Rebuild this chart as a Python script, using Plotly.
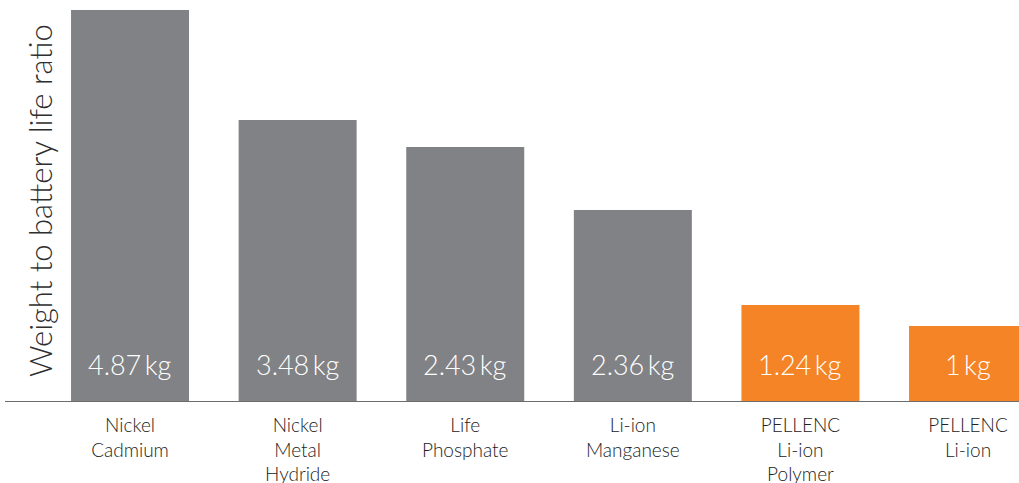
import plotly.graph_objects as go

categories = ["Nickel<br>Cadmium", "Nickel<br>Metal<br>Hydride", "Life<br>Phosphate",
              "Li-ion<br>Manganese", "PELLENC<br>Li-ion<br>Polymer", "PELLENC<br>Li-ion"]
bar_heights = [392, 282, 255, 192, 97, 76]   # relative bar heights
value_labels = ["4.87\u2009kg", "3.48\u2009kg", "2.43\u2009kg", "2.36\u2009kg", "1.24\u2009kg", "1\u2009kg"]
bar_colors = ["#818285", "#818285", "#818285", "#818285", "#F58426", "#F58426"]
y_title = "Weight to battery life ratio"

FONT = "Lato"

fig = go.Figure(go.Bar(
    x=list(range(len(categories))),
    y=bar_heights,
    width=0.704,
    marker=dict(color=bar_colors, line=dict(width=0)),
    hoverinfo="skip",
))

annotations = [dict(
    text=lab, x=i, y=0, xref="x", yref="y", xanchor="center", yanchor="middle",
    yshift=38, showarrow=False,
    font=dict(family=FONT, size=27, color="white", weight=300),
) for i, lab in enumerate(value_labels)]

annotations.append(dict(
    text=y_title, textangle=-90, xref="paper", yref="paper",
    x=(40 - 5) / 1014, y=1 - 201 / 402, xanchor="center", yanchor="middle",
    showarrow=False, font=dict(family=FONT, size=31, color="#2e2e2e", weight=300),
))

fig.update_layout(
    width=1019, height=483,
    margin=dict(l=5, r=0, t=0, b=81, autoexpand=False),
    plot_bgcolor="white", paper_bgcolor="white",
    showlegend=False,
    xaxis=dict(
        range=[-0.746, 5.304], automargin=False,
        tickmode="array", tickvals=list(range(len(categories))), ticktext=categories,
        showgrid=False, zeroline=False,
        showline=False,
        ticks="outside", ticklen=6, tickcolor="rgba(0,0,0,0)",
        tickfont=dict(family=FONT, size=19, color="#222222", weight=300),
    ),
    yaxis=dict(range=[0, 402], visible=False, automargin=False),
    shapes=[dict(type="line", xref="paper", yref="y", x0=0, x1=1, y0=0, y1=0,
                 line=dict(color="#6d6d6d", width=2))],
    annotations=annotations,
)

fig.write_html("out.html", config={"displayModeBar": False, "staticPlot": True},
               post_script="document.body.style.margin='0';document.body.style.overflow='hidden';")
